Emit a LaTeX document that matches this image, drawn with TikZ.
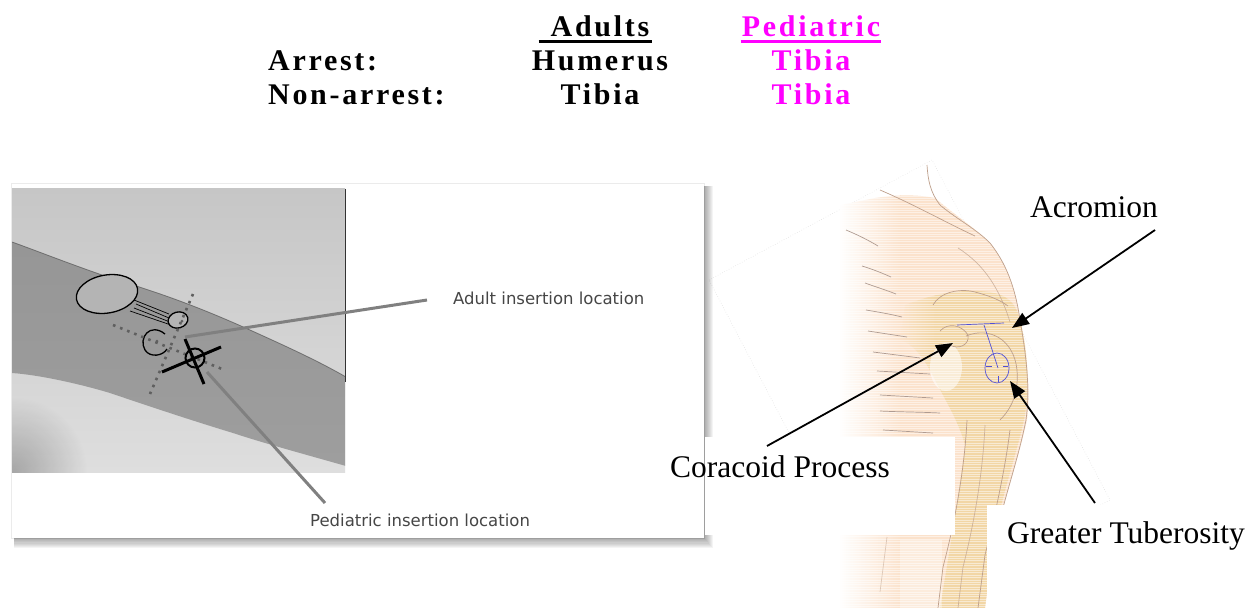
\documentclass[tikz,border=0pt]{standalone}
\usepackage{fontspec}
\setmainfont{Liberation Serif}
\newfontfamily\hdrfont[LetterSpace=9]{Liberation Serif}
\newfontfamily\capfont{DejaVu Sans}
\usetikzlibrary{arrows.meta,fadings}
\tikzfading[name=cornerfade, inner color=transparent!0, outer color=transparent!100]
\definecolor{mag}{RGB}{255,0,255}
\definecolor{peach}{RGB}{251,226,204}
\definecolor{tanc}{RGB}{242,214,165}
\definecolor{brn}{RGB}{190,160,140}
\definecolor{ribc}{RGB}{175,155,145}
\definecolor{ptrgray}{RGB}{128,128,128}
\definecolor{txtgray}{RGB}{70,70,70}
\definecolor{bluel}{RGB}{80,80,215}
\definecolor{phtop}{RGB}{198,198,198}
\definecolor{phbot}{RGB}{222,222,222}
\definecolor{legtop}{RGB}{150,150,150}
\definecolor{legbot}{RGB}{158,158,158}
\definecolor{bonefill}{RGB}{180,180,180}
\definecolor{dotc}{RGB}{95,95,95}
\tikzset{
  hdr/.style={font=\hdrfont\bfseries\fontsize{30}{36}\selectfont, inner sep=0pt, anchor=base},
  lbl/.style={font=\fontsize{31.5}{38}\selectfont, inner sep=0pt, anchor=base west},
  captext/.style={font=\capfont\fontsize{16.5}{20}\selectfont, text=txtgray, inner sep=0pt, anchor=base west},
  arr/.style={line width=1.8pt, -{Triangle[length=17pt,width=13pt]}},
  ptr/.style={line width=3pt, ptrgray},
  bone/.style={draw=black, line width=1.3pt, fill=bonefill},
  anat/.style={brn, line width=0.7pt},
  ribline/.style={ribc, line width=0.7pt},
  blu/.style={bluel, line width=0.7pt},
  dotline/.style={dotc, line width=2.6pt, dash pattern=on 2.6pt off 5pt},
  whitebox/.style={fill=white, draw=none}
}
\begin{document}
\begin{tikzpicture}[x=1pt,y=-1pt]
\useasboundingbox (0,0) rectangle (1259,608);
\clip (0,0) rectangle (1259,608);

% ---------------- header table ----------------
\node[hdr] (hadults) at (600,36) {Adults};
\node[hdr, text=mag] (hped) at (811,36) {Pediatric};
\node[hdr, anchor=base west] (harrest) at (268,70) {Arrest:};
\node[hdr, anchor=base west] (hnon) at (268,104) {Non-arrest:};
\node[hdr] (hhum) at (600,70) {Humerus};
\node[hdr] (htiba) at (600,104) {Tibia};
\node[hdr, text=mag] (htibb) at (811,70) {Tibia};
\node[hdr, text=mag] (htibc) at (811,104) {Tibia};
\draw[line width=3pt] ([xshift=-12pt,yshift=-5pt]hadults.base west) -- ([xshift=3pt,yshift=-5pt]hadults.base east);
\draw[line width=3pt, mag] ([xshift=-1pt,yshift=-5pt]hped.base west) -- ([xshift=1pt,yshift=-5pt]hped.base east);

% ---------------- right: rotated sheet with shoulder ----------------
\fill[white] (709,280) -- (932,160) -- (1110,500) -- (887,620) -- cycle;
\draw[gray!30, line width=0.5pt, dotted] (709,280) -- (932,160) -- (1110,500) -- (887,620) -- cycle;

% shoulder mass
\begin{scope}
  \clip (840,205) -- (875,198) .. controls (900,194) and (920,195) .. (935,198)
        .. controls (955,215) and (975,228) .. (990,243)
        .. controls (1005,262) and (1015,285) .. (1020,320)
        .. controls (1027,360) and (1031,390) .. (1027,420)
        .. controls (1018,460) and (1004,500) .. (995,540)
        -- (985,608) -- (840,608) -- cycle;
  \fill[peach] (900,150) rectangle (1040,608);
  \shade[left color=white, right color=peach] (838,150) rectangle (900.5,608);
\end{scope}
% humerus head / acromion / shaft
\begin{scope}
  \clip (905,305) .. controls (930,295) and (960,288) .. (990,292)
        .. controls (1005,295) and (1015,300) .. (1020,320)
        .. controls (1028,350) and (1030,390) .. (1024,420)
        .. controls (1015,460) and (1000,500) .. (992,550)
        -- (985,608) -- (940,608)
        .. controls (948,560) and (958,500) .. (965,445)
        .. controls (958,420) and (945,400) .. (935,380)
        .. controls (925,360) and (915,345) .. (900,340) -- cycle;
  \fill[tanc] (935,280) rectangle (1040,608);
  \shade[left color=peach, right color=tanc] (898,280) rectangle (935.5,608);
\end{scope}
\fill[white, opacity=.55] (946,367) ellipse [x radius=16pt, y radius=24pt];
\fill[white, opacity=.35] (900,540) rectangle (942,608);

% scan stripes
\foreach \yy in {160,162.4,...,608}
  \draw[white, opacity=.5, line width=.9pt] (838,\yy) -- (1035,\yy);

% anatomy lines
\draw[anat] (927,165) .. controls (928,180) and (930,192) .. (940,205)
      .. controls (955,218) and (975,228) .. (990,243)
      .. controls (1005,262) and (1015,285) .. (1020,320)
      .. controls (1027,360) and (1030,390) .. (1026,420)
      .. controls (1018,460) and (1005,495) .. (995,540);
\draw[anat] (880,190) .. controls (915,205) and (945,222) .. (975,236);
\draw[anat, opacity=.7] (958,248) .. controls (985,265) and (1000,290) .. (1010,322);
\draw[anat] (933,305) .. controls (940,292) and (960,288) .. (975,292)
      .. controls (990,296) and (1000,300) .. (1008,306);
\draw[anat] (940,331) .. controls (948,322) and (962,325) .. (968,335)
      .. controls (970,345) and (958,350) .. (950,345);
\draw[anat] (966,336) .. controls (990,326) and (1014,340) .. (1017,370)
      .. controls (1019,395) and (1010,410) .. (1000,420);
\draw[anat] (967,420) .. controls (965,460) and (958,510) .. (943,567) -- (938,608);
\draw[anat, opacity=.7] (985,425) .. controls (983,470) and (975,520) .. (963,567) -- (958,608);
\draw[anat] (1010,430) .. controls (1005,470) and (995,515) .. (985,555) -- (978,608);
\draw[anat, opacity=.5] (887,537) -- (880,592);
\draw[ribline] (846,230) .. controls (858,235) and (868,240) .. (878,246);
\draw[ribline] (862,266) .. controls (872,269) and (882,273) .. (891,277);
\draw[ribline] (865,283) .. controls (876,287) and (886,290) .. (896,294);
\draw[ribline] (866,310) .. controls (878,312) and (890,314) .. (902,317);
\draw[ribline] (868,331) .. controls (881,333) and (894,335) .. (907,337);
\draw[ribline] (873,352) .. controls (889,354) and (905,356) .. (920,358);
\draw[ribline] (877,371) .. controls (895,372) and (912,373) .. (930,374);
\draw[ribline] (880,395) .. controls (898,396) and (915,397) .. (933,398);
\draw[ribline] (880,411) .. controls (900,412) and (920,412) .. (940,413);
\draw[ribline] (883,430) .. controls (900,431) and (916,432) .. (933,433);
% blue landmarks
\draw[blu] (957,325) -- (1004,323);
\draw[blu] (984,325) -- (998,368);
\draw[blu] (997,368) ellipse [x radius=12pt, y radius=15pt];
\draw[blu] (986,366) -- (992,366);
\draw[blu] (1003,366) -- (1008,366);
\draw[blu] (998,376) -- (998,382);

% ---------------- left panel ----------------
\foreach \k in {1,...,9}
  \fill[black, opacity=.045] (14,186) rectangle (704+\k,538+\k*1.1);
\fill[black, opacity=.08] (11,182.5) rectangle (705,539);
\fill[white] (12,184) rectangle (704,538);
% photo
\begin{scope}
  \clip (12,188) rectangle (345,472);
  \shade[top color=phtop, bottom color=phbot] (12,188) rectangle (345,472);
  \fill[black, opacity=.25, path fading=cornerfade] (12,472) circle (75pt);
  \shade[top color=legtop, bottom color=legbot]
    (12,242) .. controls (40,252) and (80,268) .. (120,281)
    .. controls (170,296) and (210,312) .. (250,330)
    .. controls (290,348) and (320,362) .. (346,377)
    -- (346,466)
    .. controls (300,453) and (260,442) .. (233,433)
    .. controls (200,423) and (160,410) .. (110,393)
    .. controls (80,384) and (40,375) .. (12,373) -- cycle;
  \draw[gray!55!black, line width=0.8pt, opacity=.6]
    (12,242) .. controls (40,252) and (80,268) .. (120,281)
    .. controls (170,296) and (210,312) .. (250,330)
    .. controls (290,348) and (320,362) .. (346,377);
\end{scope}
\draw[gray!40!black, line width=1pt] (345,189) -- (345,382);
% bones & marks
\draw[black, line width=0.7pt] (134,300) -- (169,314);
\draw[black, line width=0.7pt] (136,304) -- (169,318);
\draw[black, line width=0.7pt] (134,308) -- (170,322);
\draw[black, line width=0.7pt] (130,311) -- (171,325);
\draw[bone] (107,294) ellipse [x radius=31pt, y radius=19pt, rotate=10];
\draw[bone] (178,320) ellipse [x radius=10pt, y radius=8pt, rotate=15];
\fill[dotc] (182,321) circle (1.5pt);
\draw[black, line width=1.3pt] (165,334) .. controls (150,322) and (138,338) .. (145,350)
   .. controls (150,358) and (163,356) .. (167,349);
\fill[dotc] (157,341) circle (1.5pt);
\draw[dotline] (193,294) -- (150,394);
\draw[dotline] (113,325) -- (222,369);
\node[circle, draw=black, line width=2pt, minimum size=19pt, inner sep=0pt] (xhair) at (195,358) {};
\draw[black, line width=3pt] (162,372) -- (221,347);
\draw[black, line width=3pt] (185,339) -- (204,384);
% pointers and captions
\node[captext] (adulttxt) at (453,304) {Adult insertion location};
\node[captext] (pedtxt) at (310,526) {Pediatric insertion location};
\coordinate (adultpt) at (185,337);
\coordinate (adultend) at (427,300);
\coordinate (pedpt) at (207,372);
\coordinate (pedend) at (325,503);
\draw[ptr] (adultpt) -- (adultend);
\draw[ptr] (pedpt) -- (pedend);

% ---------------- shoulder labels ----------------
\fill[whitebox] (704.5,437) rectangle (955,535);
\fill[whitebox] (987,505) rectangle (1259,608);
\node[lbl] (acro) at (1030,217) {Acromion};
\node[lbl] (cora) at (670,477) {Coracoid Process};
\node[lbl] (gt) at (1007,543) {Greater Tuberosity};
\coordinate (acrostart) at (1155,230);
\coordinate (acrotip) at (1012,328);
\coordinate (corastart) at (767,446);
\coordinate (coratip) at (953,343);
\coordinate (gtstart) at (1095,503);
\coordinate (gttip) at (1010,381);
\draw[arr] (acrostart) -- (acrotip);
\draw[arr] (corastart) -- (coratip);
\draw[arr] (gtstart) -- (gttip);
\end{tikzpicture}
\end{document}
